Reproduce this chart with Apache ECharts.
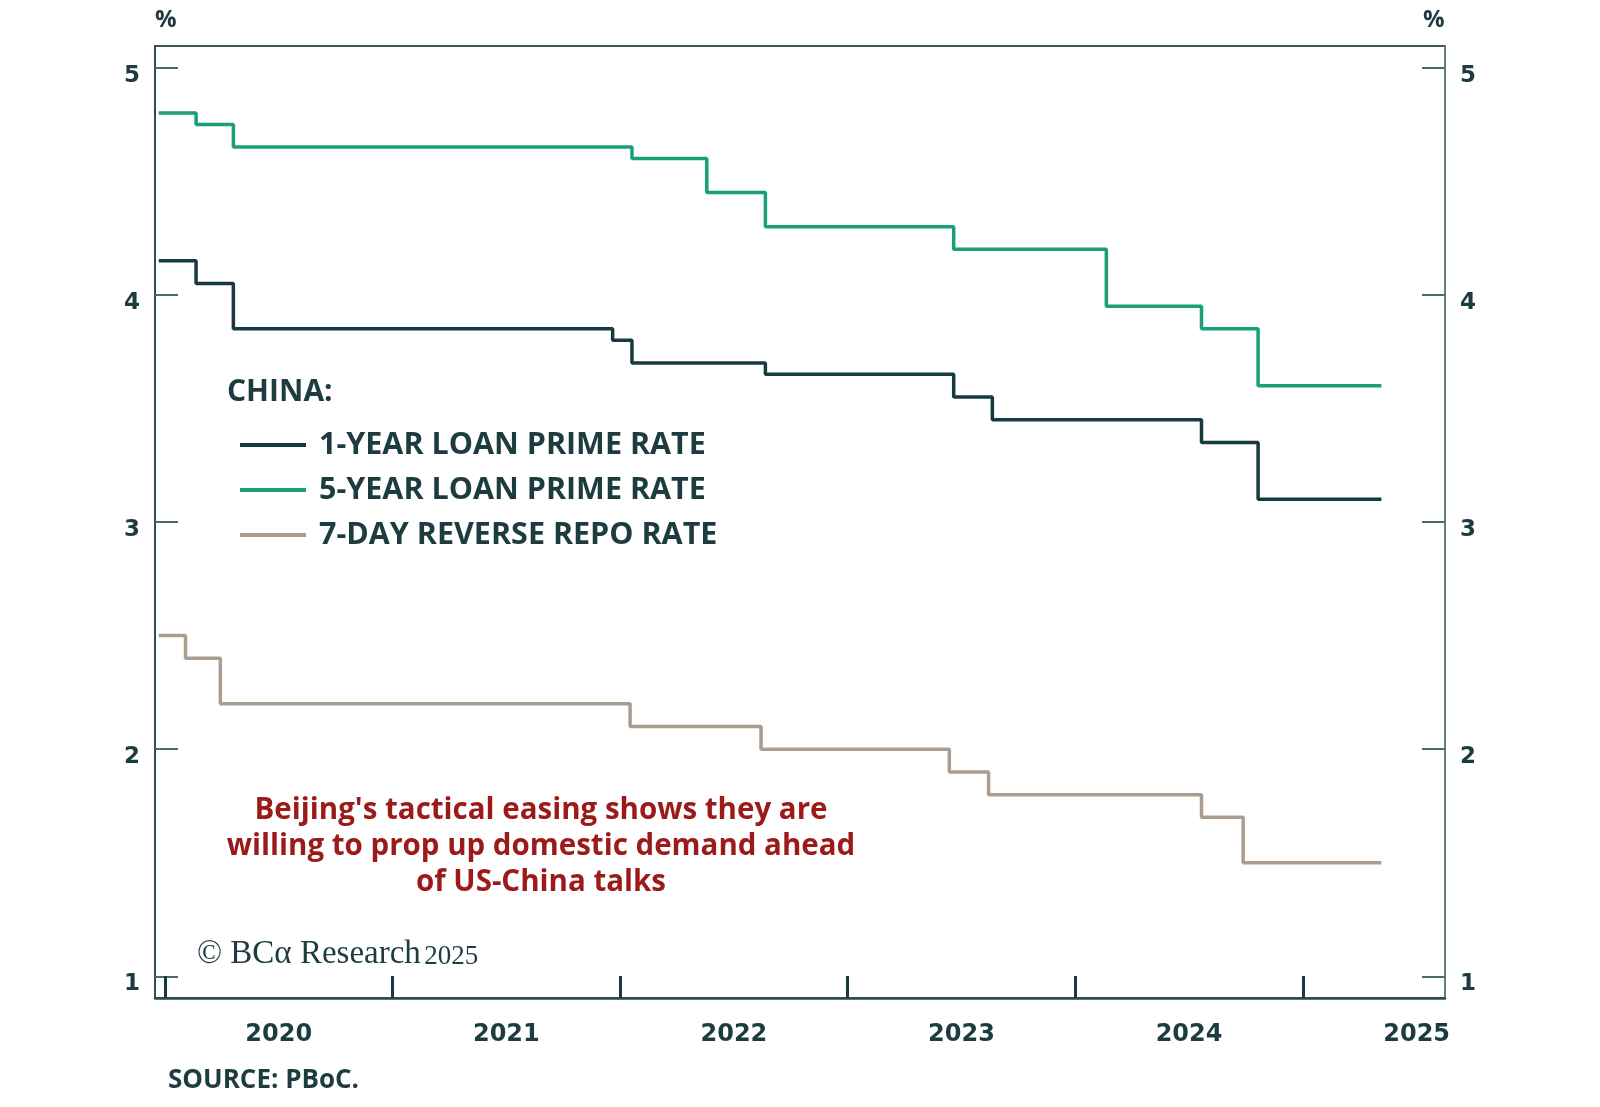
<!DOCTYPE html>
<html>
<head>
<meta charset="utf-8">
<script src="https://cdn.jsdelivr.net/npm/echarts@6/dist/echarts.min.js"></script>
<style>
html,body{margin:0;padding:0;background:#fff;}
#chart{width:1600px;height:1107px;}
</style>
</head>
<body>
<div id="chart"></div>
<script>
// ---- data ----
const dates1Y = ['2019-12-22','2020-02-20','2020-04-20','2021-12-20','2022-01-20','2022-08-22','2023-06-20','2023-08-21','2024-07-22','2024-10-21','2025-05-07'];
const rate1Y  = [4.15, 4.05, 3.85, 3.80, 3.70, 3.65, 3.55, 3.45, 3.35, 3.10, 3.10];
const dates5Y = ['2019-12-22','2020-02-20','2020-04-20','2022-01-20','2022-05-20','2022-08-22','2023-06-20','2024-02-20','2024-07-22','2024-10-21','2025-05-07'];
const rate5Y  = [4.80, 4.75, 4.65, 4.60, 4.45, 4.30, 4.20, 3.95, 3.85, 3.60, 3.60];
const datesRR = ['2019-12-22','2020-02-03','2020-03-30','2022-01-17','2022-08-15','2023-06-13','2023-08-15','2024-07-22','2024-09-27','2025-05-07'];
const rateRR  = [2.50, 2.40, 2.20, 2.10, 2.00, 1.90, 1.80, 1.70, 1.50, 1.50];
const seriesNames = ['1-YEAR LOAN PRIME RATE','5-YEAR LOAN PRIME RATE','7-DAY REVERSE REPO RATE'];
const yTicks = [1, 2, 3, 4, 5];
const yearTicks = [2020, 2021, 2022, 2023, 2024, 2025];
const yearLabels = ['2020', '2021', '2022', '2023', '2024', '2025'];
const xStart = '2019-12-16', xEnd = '2025-08-17';

// date string -> decimal year
function dy(s){
  const p = s.split('-').map(Number);
  const t0 = Date.UTC(p[0],0,1), t1 = Date.UTC(p[0]+1,0,1), t = Date.UTC(p[0],p[1]-1,p[2]);
  return p[0] + (t - t0)/(t1 - t0);
}
function pairs(d, v){ return d.map((x,i)=>[dy(x), v[i]]); }

const DARK = '#173a3e';
const GREEN = '#17a07b';
const TAN = '#a99d8f';
const TXT = '#1d3c40';
const RED = '#9c1a1a';
const FONT = '"Open Sans", Lato, sans-serif';
const AXFONT = '"DejaVu Sans", "Open Sans", sans-serif';

const chart = echarts.init(document.getElementById('chart'), null, {renderer:'canvas'});
const yCommon = {
  type:'value', min:0.905, max:5.095,
  splitLine:{show:false},
  axisTick:{show:true, inside:true, length:23, customValues:yTicks, lineStyle:{color:'#4f6a6d', width:2}},
  axisLabel:{customValues:yTicks, fontSize:23, fontWeight:'bold', fontFamily:AXFONT, color:TXT, margin:15, verticalAlign:'top', lineHeight:16}
};
chart.setOption({
  animation:false,
  backgroundColor:'#fff',
  grid:{left:155, right:155, top:46, bottom:109, show:true, borderColor:'#3b5659', borderWidth:2, containLabel:false},
  legend:{
    orient:'vertical', left:235, top:423, padding:5, itemWidth:66, itemHeight:4, itemGap:11, icon:'rect',
    data:seriesNames,
    textStyle:{fontSize:30.5, fontWeight:'bold', fontFamily:FONT, color:TXT, lineHeight:34, padding:[0,0,0,8]}
  },
  xAxis:{
    type:'value',
    min:dy(xStart), max:dy(xEnd),
    splitLine:{show:false},
    axisLine:{lineStyle:{color:'#2a4a52', width:2.5}},
    axisTick:{show:true, inside:true, length:22, customValues:yearTicks, lineStyle:{color:DARK, width:3}},
    axisLabel:{customValues:yearTicks.map(y=>y+0.5), formatter:(v)=>yearLabels[Math.floor(v)-2020],
      fontSize:24, fontWeight:'bold', fontFamily:AXFONT, color:TXT, margin:25}
  },
  yAxis:[
    Object.assign({}, yCommon, {position:'left', axisLine:{show:true, lineStyle:{color:'#2a4f5a', width:2}}}),
    Object.assign({}, yCommon, {position:'right', axisLine:{show:true, lineStyle:{color:'#667d80', width:2}}})
  ],
  series:[
    {name:seriesNames[0], type:'line', step:'end', showSymbol:false, symbol:'none', data:pairs(dates1Y, rate1Y), lineStyle:{color:DARK, width:3.5}, itemStyle:{color:DARK}},
    {name:seriesNames[1], type:'line', step:'end', showSymbol:false, symbol:'none', data:pairs(dates5Y, rate5Y), lineStyle:{color:GREEN, width:3.5}, itemStyle:{color:GREEN}},
    {name:seriesNames[2], type:'line', step:'end', showSymbol:false, symbol:'none', data:pairs(datesRR, rateRR), lineStyle:{color:TAN, width:3.5}, itemStyle:{color:TAN}}
  ],
  graphic:[
    {type:'text', left:155, top:8, style:{text:'%', fontSize:24, fontWeight:'bold', fontFamily:FONT, fill:TXT}},
    {type:'text', left:1423, top:8, style:{text:'%', fontSize:24, fontWeight:'bold', fontFamily:FONT, fill:TXT}},
    {type:'text', left:227, top:377, style:{text:'CHINA:', fontSize:30, fontWeight:'bold', fontFamily:FONT, fill:TXT}},
    {type:'text', x:541, y:793, style:{text:"Beijing's tactical easing shows they are\nwilling to prop up domestic demand ahead\nof US-China talks",
      align:'center', verticalAlign:'top', fontSize:29.5, lineHeight:36, fontWeight:'bold', fontFamily:FONT, fill:RED}},
    {type:'text', left:197, top:938, style:{text:'{a|© BCα Research} {b|2025}', rich:{
      a:{fontSize:33, fontFamily:'"Liberation Serif", "DejaVu Serif", serif', fill:TXT},
      b:{fontSize:27, fontFamily:'"Liberation Serif", serif', fill:TXT, padding:[5,0,0,0]}}}},
    {type:'text', left:168, top:1068, style:{text:'SOURCE: PBoC.', fontSize:26, fontWeight:'bold', fontFamily:FONT, fill:TXT}}
  ]
});
</script>
</body>
</html>
